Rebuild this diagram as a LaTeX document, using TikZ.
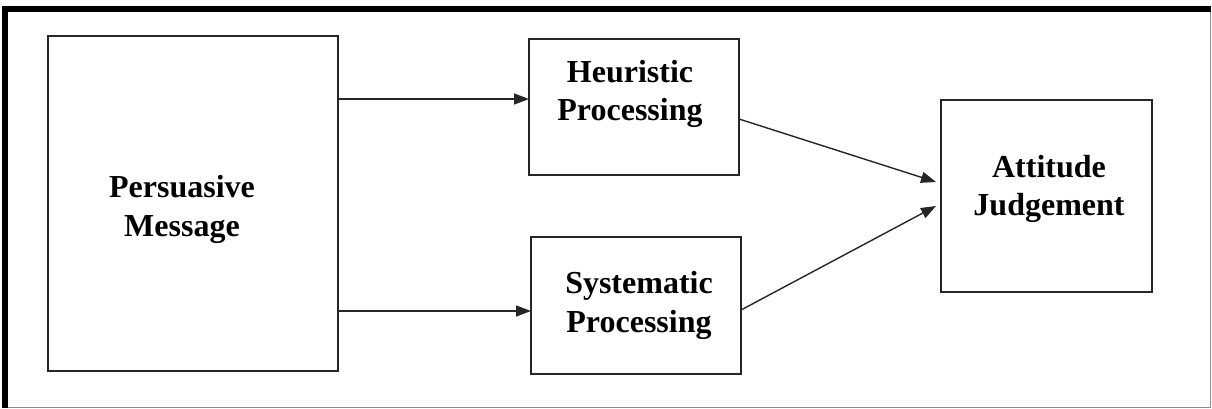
\documentclass[tikz,border=0pt]{standalone}
\usepackage{fontspec}
\setmainfont{Liberation Serif}
\usetikzlibrary{arrows.meta,calc}
\begin{document}
\begin{tikzpicture}[x=1pt,y=-1pt,
  box/.style={draw=black!85, line width=1.6pt, inner sep=0pt, outer sep=0pt},
  lbl/.style={anchor=base, inner sep=0pt, font=\fontsize{32}{38}\selectfont\bfseries},
  arr/.style={draw=black!85, line width=1.4pt, -{Triangle[length=15pt,width=11pt]}}]
  \useasboundingbox (0,0) rectangle (1212,408);
  \fill[white] (0,0) rectangle (1212,408);
  % page frame: thin grey outline with a heavy black top and left edge
  \draw[black!45, line width=1.2pt] (5,9) rectangle (1210.5,407.2);
  \draw[black, line width=6pt] (5,407.5) -- (5,9) -- (1210.8,9);

  % boxes
  \node[box, minimum width=290pt, minimum height=335pt] (msg)  at (193,203.5) {};
  \node[box, minimum width=210pt, minimum height=136pt] (heur) at (634,107) {};
  \node[box, minimum width=210pt, minimum height=137pt] (sys)  at (636,305.5) {};
  \node[box, minimum width=211pt, minimum height=192pt] (att)  at (1046.5,196) {};

  % box labels
  \node[lbl] (msgA)  at (182,197)  {Persuasive};
  \node[lbl] (msgB)  at (182,236)  {Message};
  \node[lbl] (heurA) at (630,82)   {Heuristic};
  \node[lbl] (heurB) at (630,120)  {Processing};
  \node[lbl] (sysA)  at (639,293)  {Systematic};
  \node[lbl] (sysB)  at (639,332)  {Processing};
  \node[lbl] (attA)  at (1049,177) {Attitude};
  \node[lbl] (attB)  at (1049,215) {Judgement};

  % arrow end points just short of the judgement box
  \coordinate (t1) at ($(att.west)+(-5,-14)$);
  \coordinate (t2) at ($(att.west)+(-5,10)$);

  % connectors
  \draw[arr] (msg.east |- 0,99)  -- (heur.west |- 0,99);
  \draw[arr] (msg.east |- 0,311) -- (sys.west |- 0,311);
  \draw[arr] ($(heur.east)+(0,12)$) -- (t1);
  \draw[arr] ($(sys.east)+(0,4.5)$) -- (t2);
\end{tikzpicture}
\end{document}
